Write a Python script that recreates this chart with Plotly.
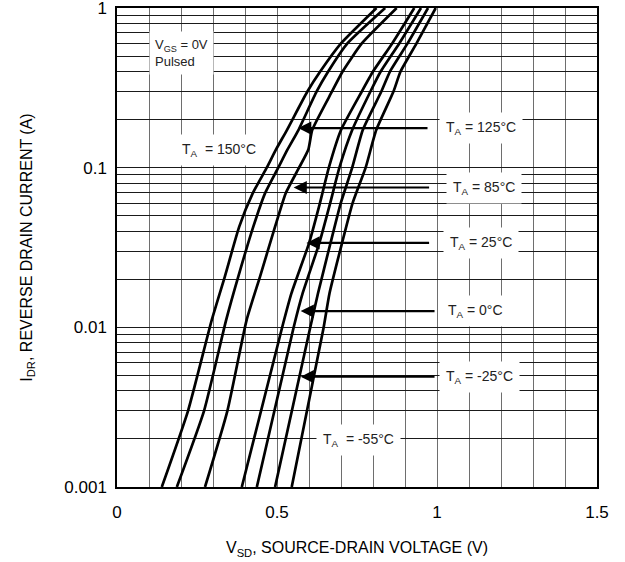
import numpy as np
import plotly.graph_objects as go

# Reverse drain current levels (A) and source-drain voltage (V) read for each curve
temps = ["150°C", "125°C", "85°C", "25°C", "0°C", "-25°C", "-55°C"]

i_hot = [0.001, 0.003, 0.0111, 0.0208, 0.0427, 0.069, 0.1, 0.13, 0.172, 0.3, 0.4, 0.6, 1.0]
v_150 = [0.140, 0.222, 0.296, 0.337, 0.382, 0.424, 0.468, 0.497, 0.531, 0.595, 0.635, 0.700, 0.811]
v_125 = [0.187, 0.272, 0.341, 0.379, 0.426, 0.4625, 0.504, 0.533, 0.567, 0.624, 0.660, 0.720, 0.838]
v_85 = [0.275, 0.345, 0.405, 0.447, 0.494, 0.527, 0.569, 0.598, 0.610, 0.672, 0.705, 0.765, 0.874]

i_cold = [0.001, 0.0098, 0.0163, 0.0336, 0.0598, 0.1, 0.172, 0.3, 0.4, 0.6, 1.0]
v_25 = [0.390, 0.515, 0.545, 0.600, 0.634, 0.662, 0.700, 0.765, 0.800, 0.860, 0.929]
v_0 = [0.437, 0.551, 0.580, 0.632, 0.666, 0.695, 0.735, 0.792, 0.824, 0.882, 0.950]
v_m25 = [0.494, 0.603, 0.628, 0.667, 0.699, 0.735, 0.768, 0.826, 0.853, 0.908, 0.972]
v_m55 = [0.546, 0.645, 0.664, 0.703, 0.736, 0.777, 0.810, 0.864, 0.886, 0.936, 0.996]

x_ticks = [0, 0.5, 1, 1.5]
x_tick_text = ["0", "0.5", "1", "1.5"]
y_decades = [0.001, 0.01, 0.1, 1]
y_decade_text = ["0.001", "0.01", "0.1", "1"]

# Arrow callouts: label, tip (V, A), tail V, label centre V
arrow_labels = ["125°C", "85°C", "25°C", "0°C", "-25°C"]
arrow_tip_v = [0.566, 0.552, 0.592, 0.574, 0.574]
arrow_tip_i = [0.177, 0.0751, 0.0338, 0.01265, 0.00491]
arrow_tail_v = [0.975, 0.98, 0.98, 0.997, 0.997]
label_v = [1.138, 1.146, 1.138, 1.119, 1.134]

fig = go.Figure()
series = [(i_hot, v_150), (i_hot, v_125), (i_hot, v_85),
          (i_cold, v_25), (i_cold, v_0), (i_cold, v_m25), (i_cold, v_m55)]
for t, (ii, vv) in zip(temps, series):
    fig.add_trace(go.Scatter(x=vv, y=ii, mode="lines", name=t,
                             line=dict(color="black", width=2.7, shape="spline", smoothing=0.5),
                             showlegend=False, hoverinfo="skip"))

# gridline values for log axis (1..9 per decade)
y_grid = []
for d in [0.001, 0.01, 0.1]:
    for k in range(1, 10):
        y_grid.append(d * k)
y_grid.append(1.0)
y_grid_text = []
for v in y_grid:
    lab = ""
    for d, t in zip(y_decades, y_decade_text):
        if abs(v - d) < 1e-12:
            lab = t
    y_grid_text.append(lab)

font = "Liberation Sans, Arial, sans-serif"

fig.update_layout(
    width=625, height=562,
    margin=dict(l=117, r=28, t=8, b=75),
    plot_bgcolor="white", paper_bgcolor="white",
    font=dict(family=font, color="black", size=16),
    xaxis=dict(range=[0, 1.5], tickvals=x_ticks, ticktext=x_tick_text,
               showgrid=True, gridcolor="#6e6e6e", gridwidth=1.3,
               minor=dict(dtick=0.1, showgrid=True, gridcolor="#6e6e6e", gridwidth=1.3),
               showline=True, linecolor="black", linewidth=1.5, mirror=True,
               ticks="", zeroline=False, ticklabelstandoff=9, automargin=False,
               ticklabeloverflow="allow", tickfont=dict(size=17),
               title=dict(text="V<sub>SD</sub>, SOURCE-DRAIN VOLTAGE (V)", standoff=21,
                          font=dict(size=16))),
    yaxis=dict(type="log", range=[-3, 0], tickvals=y_grid, ticktext=y_grid_text,
               showgrid=True, gridcolor="#1a1a1a", gridwidth=1,
               showline=True, linecolor="black", linewidth=1.5, mirror=True,
               ticks="", zeroline=False, ticklabelstandoff=5, automargin=False,
               ticklabeloverflow="allow", tickfont=dict(size=17),
               title=dict(text="I<sub>DR</sub>, REVERSE DRAIN CURRENT (A)", standoff=28,
                          font=dict(size=16))),
)

# arrows with labels
for lab, tv, ti, av, lv in zip(arrow_labels, arrow_tip_v, arrow_tip_i, arrow_tail_v, label_v):
    fig.add_annotation(x=tv, y=np.log10(ti), ax=av, ay=np.log10(ti),
                       xref="x", yref="y", axref="x", ayref="y",
                       text="", showarrow=True, arrowhead=2, arrowsize=1.2,
                       arrowwidth=2.2, arrowcolor="black", standoff=0)
    fig.add_annotation(x=lv, y=np.log10(ti), xref="x", yref="y",
                       text="T<sub>A</sub> = " + lab, showarrow=False,
                       bgcolor="white", borderpad=6,
                       font=dict(family=font, size=14, color="#222"))

fig.add_annotation(x=0.32, y=np.log10(0.129), xref="x", yref="y",
                   text="T<sub>A</sub>  = 150°C", showarrow=False,
                   bgcolor="white", borderpad=6, font=dict(family=font, size=14, color="#222"))
fig.add_annotation(x=0.755, y=np.log10(0.00197), xref="x", yref="y",
                   text="T<sub>A</sub>  = -55°C", showarrow=False,
                   bgcolor="white", borderpad=6, font=dict(family=font, size=14, color="#222"))
fig.add_annotation(x=0.1, y=np.log10(0.52), xref="x", yref="y", xanchor="left",
                   text="V<sub>GS</sub> = 0V<br>Pulsed", showarrow=False, align="left",
                   bgcolor="white", borderpad=5, font=dict(family=font, size=13, color="#222"))

fig.write_html("out.html", config={"displayModeBar": False},
               post_script="document.body.style.margin='0px';")
